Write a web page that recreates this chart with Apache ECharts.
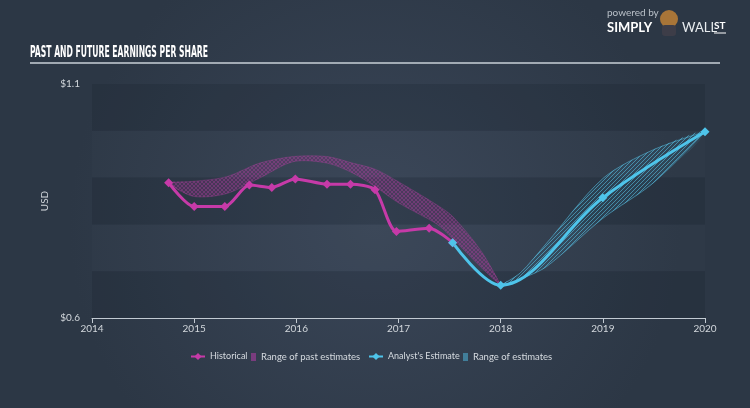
<!DOCTYPE html>
<html>
<head>
<meta charset="utf-8">
<script src="https://cdn.jsdelivr.net/npm/echarts@6/dist/echarts.min.js"></script>
<style>
html,body{margin:0;padding:0;background:#323e4d;}
#c{width:750px;height:408px;}
</style>
</head>
<body>
<div id="c"></div>
<script>
// ---- data ----
var histX = [2014.75, 2015.0, 2015.3, 2015.54, 2015.76, 2015.99, 2016.3, 2016.53, 2016.77, 2016.98, 2017.3, 2017.53];
var histY = [0.889, 0.838, 0.838, 0.884, 0.879, 0.897, 0.886, 0.886, 0.874, 0.785, 0.792, 0.761];
var estX = [2017.53, 2018.0, 2019.0, 2020.0];
var estY = [0.761, 0.670, 0.857, 0.998];
var pastRangeX = [2014.75, 2014.99, 2015.32, 2015.64, 2015.97, 2016.3, 2016.55, 2016.77, 2017.0, 2017.38, 2017.53, 2017.8, 2018.0];
var pastRangeHigh = [0.889, 0.892, 0.902, 0.931, 0.945, 0.945, 0.931, 0.918, 0.891, 0.841, 0.817, 0.746, 0.670];
var pastRangeLow = [0.889, 0.860, 0.866, 0.899, 0.934, 0.931, 0.910, 0.881, 0.846, 0.800, 0.770, 0.710, 0.670];
var futRangeX = [2018.0, 2018.19, 2018.45, 2019.0, 2019.49, 2020.0];
var futRangeHigh = [0.670, 0.696, 0.760, 0.898, 0.959, 0.998];
var futRangeLow = [0.670, 0.683, 0.710, 0.813, 0.888, 0.998];
var yTickLabels = {"0.6": "$0.6", "1.1": "$1.1"};
var xYears = [2014, 2015, 2016, 2017, 2018, 2019, 2020];
var titleText = "PAST AND FUTURE EARNINGS PER SHARE";

function pairs(xs, ys) { return xs.map(function (x, i) { return [x, ys[i]]; }); }

function hatch(bg, line, cross) {
  var cv = document.createElement('canvas');
  cv.width = 4; cv.height = 4;
  var g = cv.getContext('2d');
  g.fillStyle = bg; g.fillRect(0, 0, 4, 4);
  g.strokeStyle = line; g.lineWidth = 0.8;
  g.beginPath(); g.moveTo(0, 4); g.lineTo(4, 0); g.moveTo(-1, 1); g.lineTo(1, -1); g.moveTo(3, 5); g.lineTo(5, 3); g.stroke();
  if (cross) { g.beginPath(); g.moveTo(0, 0); g.lineTo(4, 4); g.moveTo(3, -1); g.lineTo(5, 1); g.moveTo(-1, 3); g.lineTo(1, 5); g.stroke(); }
  return { image: cv, repeat: 'repeat' };
}

var MAG = '#c63aa8';
var CYAN = '#4ec4ea';
var magHatch = hatch('rgba(150,50,140,0.25)', 'rgba(190,65,170,0.42)', true);
var cyanHatch = hatch('rgba(60,160,200,0.12)', 'rgba(90,200,235,0.7)', false);

function bandRender(xs, hi, lo, fill, stroke) {
  return function (params, api) {
    if (params.dataIndex !== 0) return null;
    var top = xs.map(function (x, i) { return api.coord([x, hi[i]]); });
    var bot = xs.map(function (x, i) { return api.coord([x, lo[i]]); });
    var ring = top.concat(bot.slice(1, bot.length - 1).reverse());
    return {
      type: 'group', children: [
        { type: 'polygon', shape: { points: ring, smooth: 0.3 }, style: { fill: fill, stroke: null } },
        { type: 'polyline', shape: { points: top, smooth: 0.3 }, style: { stroke: stroke, fill: null, lineWidth: 0.7 } },
        { type: 'polyline', shape: { points: bot, smooth: 0.3 }, style: { stroke: stroke, fill: null, lineWidth: 0.7 } }
      ]
    };
  };
}

// measure title to fit its width
var mc = document.createElement('canvas').getContext('2d');
mc.font = 'bold 16px "DejaVu Sans Condensed", "DejaVu Sans"';
var titleW = mc.measureText(titleText).width;
var titleScale = 178 / titleW;

var chart = echarts.init(document.getElementById('c'), null, { renderer: 'canvas' });
var axisText = { color: '#d2d7dc', fontSize: 10, fontFamily: 'Lato, "Open Sans", sans-serif' };
var legTextS = { color: '#d6dbe0', fontSize: 9, fontFamily: 'Lato, sans-serif' };
var legTextL = { color: '#d6dbe0', fontSize: 9.5, fontFamily: 'Lato, sans-serif' };

chart.setOption({
  animation: false,
  backgroundColor: {
    type: 'radial', x: 0.5, y: 0.55, r: 0.75,
    colorStops: [{ offset: 0, color: '#3a4658' }, { offset: 1, color: '#2c3745' }]
  },
  grid: { left: 92, right: 45, top: 84, bottom: 90, containLabel: false },
  xAxis: {
    type: 'value', min: 2014, max: 2020, interval: 1,
    axisLine: { show: true, lineStyle: { color: '#c2cad2', width: 1 } },
    axisTick: { show: true, length: 5, lineStyle: { color: '#c2cad2' } },
    axisLabel: Object.assign({ margin: 6, formatter: function (v) { return xYears.indexOf(v) >= 0 ? String(v) : ''; } }, axisText),
    splitLine: { show: false }
  },
  yAxis: {
    type: 'value', min: 0.6, max: 1.1, interval: 0.1,
    name: 'USD', nameLocation: 'middle', nameGap: 27, nameRotate: 90,
    nameTextStyle: axisText,
    axisLine: { show: false }, axisTick: { show: false },
    axisLabel: Object.assign({ margin: 12, formatter: function (v) { var k = String(+v.toFixed(1)); return yTickLabels[k] || ''; } }, axisText),
    splitLine: { show: false },
    splitArea: { show: true, areaStyle: { color: ['rgba(20,28,38,0.2)', 'rgba(255,255,255,0.012)'] } }
  },
  legend: [
    { top: 352, padding: 0, itemHeight: 9, left: 190, itemWidth: 14, textStyle: legTextS, data: [{ name: 'Historical' }] },
    { top: 352, padding: 0, itemHeight: 8, left: 251, itemWidth: 5, textStyle: legTextL, data: [{ name: 'Range of past estimates', icon: 'rect', itemStyle: { color: 'rgba(170,60,160,0.6)' } }] },
    { top: 352, padding: 0, itemHeight: 9, left: 368, itemWidth: 14, textStyle: legTextS, data: [{ name: "Analyst's Estimate" }] },
    { top: 352, padding: 0, itemHeight: 8, left: 463, itemWidth: 5, textStyle: legTextL, data: [{ name: 'Range of estimates', icon: 'rect', itemStyle: { color: 'rgba(80,190,230,0.5)' } }] }
  ],
  graphic: [
    { type: 'text', x: 30, y: 45, scaleX: titleScale, style: { text: titleText, fill: '#ffffff', font: 'bold 16px "DejaVu Sans Condensed", "DejaVu Sans"' } },
    { type: 'line', shape: { x1: 30, y1: 63, x2: 720, y2: 63 }, style: { stroke: '#c9d0d7', lineWidth: 1.5 } },
    { type: 'text', x: 607, y: 8, style: { text: 'powered by', fill: '#b9c0c8', font: '10px Lato, sans-serif' } },
    { type: 'text', x: 607, y: 21, style: { text: 'SIMPLY', fill: '#ffffff', font: 'bold 13px Lato, sans-serif' } },
    { type: 'circle', shape: { cx: 669, cy: 19, r: 9 }, style: { fill: '#a87538' } },
    { type: 'rect', shape: { x: 662, y: 25, width: 14, height: 11, r: 3 }, style: { fill: '#3d3d48' } },
    { type: 'text', x: 682, y: 21, style: { text: 'WALL', fill: '#e8ecef', font: '13px Lato, sans-serif' } },
    { type: 'text', x: 714, y: 21, style: { text: 'ST', fill: '#ffffff', font: 'bold 10px Lato, sans-serif' } },
    { type: 'line', shape: { x1: 714, y1: 33, x2: 726, y2: 33 }, style: { stroke: '#ffffff', lineWidth: 1 } }
  ],
  series: [
    { name: 'Range of past estimates', type: 'custom', silent: true, itemStyle: { color: 'rgba(170,60,160,0.6)' },
      data: pairs(pastRangeX, pastRangeHigh),
      renderItem: bandRender(pastRangeX, pastRangeHigh, pastRangeLow, magHatch, 'rgba(190,70,170,0.4)') },
    { name: 'Range of estimates', type: 'custom', silent: true, itemStyle: { color: 'rgba(80,190,230,0.5)' },
      data: pairs(futRangeX, futRangeHigh),
      renderItem: bandRender(futRangeX, futRangeHigh, futRangeLow, cyanHatch, 'rgba(90,200,235,0.75)') },
    { name: 'Historical', type: 'line', smooth: 0.25, data: pairs(histX, histY),
      symbol: 'diamond', symbolSize: 9, itemStyle: { color: MAG }, lineStyle: { color: MAG, width: 3 } },
    { name: "Analyst's Estimate", type: 'line', smooth: 0.35, data: pairs(estX, estY),
      symbol: 'diamond', symbolSize: 9, itemStyle: { color: CYAN }, lineStyle: { color: CYAN, width: 3 } }
  ]
});
</script>
</body>
</html>
